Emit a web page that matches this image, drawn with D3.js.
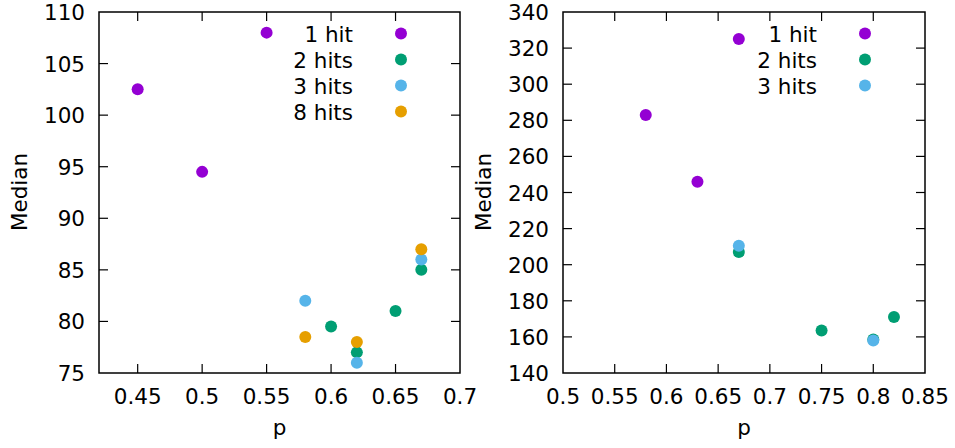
<!DOCTYPE html>
<html>
<head>
<meta charset="utf-8">
<script src="https://cdn.jsdelivr.net/npm/d3@7"></script>
<style>
body { margin: 0; background: #fff; }
svg text { font-family: "DejaVu Sans", sans-serif; font-size: 21.5px; fill: #000; }
</style>
</head>
<body>
<svg id="chart" width="955" height="448"></svg>
<script>
// series colours (gnuplot defaults)
var colors = {"1 hit": "#9400d3", "2 hits": "#009e73", "3 hits": "#56b4e9", "8 hits": "#e69f00"};

// left panel
var leftSeries = ["1 hit", "2 hits", "3 hits", "8 hits"];
var leftP = {
    "1 hit": [0.45, 0.5, 0.55],
    "2 hits": [0.6, 0.62, 0.65, 0.67],
    "3 hits": [0.58, 0.62, 0.67],
    "8 hits": [0.58, 0.62, 0.67]
};
var leftMedian = {
    "1 hit": [102.5, 94.5, 108],
    "2 hits": [79.5, 77, 81, 85],
    "3 hits": [82, 76, 86],
    "8 hits": [78.5, 78, 87]
};
var leftXTicks = [0.45, 0.5, 0.55, 0.6, 0.65, 0.7];
var leftYTicks = [75, 80, 85, 90, 95, 100, 105, 110];

// right panel
var rightSeries = ["1 hit", "2 hits", "3 hits"];
var rightP = {
    "1 hit": [0.58, 0.63, 0.67],
    "2 hits": [0.67, 0.75, 0.8, 0.82],
    "3 hits": [0.67, 0.8]
};
var rightMedian = {
    "1 hit": [283, 246, 325],
    "2 hits": [207, 163.5, 158.5, 171],
    "3 hits": [210.5, 158]
};
var rightXTicks = [0.5, 0.55, 0.6, 0.65, 0.7, 0.75, 0.8, 0.85];
var rightYTicks = [140, 160, 180, 200, 220, 240, 260, 280, 300, 320, 340];

var svg = d3.select("#chart");

function panel(opt) {
    var g = svg.append("g");
    var x = d3.scaleLinear().domain(opt.xDomain).range([opt.left, opt.right]);
    var y = d3.scaleLinear().domain(opt.yDomain).range([373, 12]);
    var tl = 9;

    // frame
    g.append("rect")
        .attr("x", opt.left).attr("y", 12)
        .attr("width", opt.right - opt.left).attr("height", 361)
        .attr("fill", "none").attr("stroke", "#000").attr("stroke-width", 1.5);

    // ticks, mirrored and inward
    var xt = opt.xTicks.filter(function(d) { return d > opt.xDomain[0] && d < opt.xDomain[1]; });
    g.selectAll("line.xb").data(xt).enter().append("line")
        .attr("x1", x).attr("x2", x).attr("y1", 373).attr("y2", 373 - tl)
        .attr("stroke", "#000").attr("stroke-width", 1.2);
    g.selectAll("line.xt").data(xt).enter().append("line")
        .attr("x1", x).attr("x2", x).attr("y1", 12).attr("y2", 12 + tl)
        .attr("stroke", "#000").attr("stroke-width", 1.2);
    var yt = opt.yTicks.filter(function(d) { return d > opt.yDomain[0] && d < opt.yDomain[1]; });
    g.selectAll("line.yl").data(yt).enter().append("line")
        .attr("x1", opt.left).attr("x2", opt.left + tl).attr("y1", y).attr("y2", y)
        .attr("stroke", "#000").attr("stroke-width", 1.2);
    g.selectAll("line.yr").data(yt).enter().append("line")
        .attr("x1", opt.right).attr("x2", opt.right - tl).attr("y1", y).attr("y2", y)
        .attr("stroke", "#000").attr("stroke-width", 1.2);

    // tick labels
    g.selectAll("text.xl").data(opt.xTicks).enter().append("text")
        .attr("x", x).attr("y", 404)
        .attr("text-anchor", "middle")
        .text(function(d) { return String(d); });
    g.selectAll("text.yl").data(opt.yTicks).enter().append("text")
        .attr("x", opt.left - 14).attr("y", function(d) { return y(d) + 8; })
        .attr("text-anchor", "end")
        .text(function(d) { return String(d); });

    // axis titles
    g.append("text")
        .attr("transform", "translate(" + (opt.yTitleX) + ",192) rotate(-90)")
        .attr("text-anchor", "middle")
        .text("Median");
    g.append("text")
        .attr("x", (opt.left + opt.right) / 2).attr("y", 435)
        .attr("text-anchor", "middle")
        .text("p");

    // points
    opt.series.forEach(function(s) {
        var pts = opt.px[s].map(function(p, i) { return [p, opt.py[s][i]]; });
        g.selectAll(null).data(pts).enter().append("circle")
            .attr("cx", function(d) { return x(d[0]); })
            .attr("cy", function(d) { return y(d[1]); })
            .attr("r", 6)
            .attr("fill", colors[s]);
    });

    // legend
    opt.series.forEach(function(s, i) {
        var ly = 33.5 + i * 26;
        g.append("text")
            .attr("x", opt.legendTextX).attr("y", ly + 8)
            .attr("text-anchor", "end")
            .text(s);
        g.append("circle")
            .attr("cx", opt.legendDotX).attr("cy", ly)
            .attr("r", 6).attr("fill", colors[s]);
    });
}

panel({
    left: 99, right: 460,
    xDomain: [0.42, 0.7], yDomain: [75, 110],
    xTicks: leftXTicks, yTicks: leftYTicks,
    series: leftSeries, px: leftP, py: leftMedian,
    yTitleX: 27, legendTextX: 353, legendDotX: 401
});

panel({
    left: 563, right: 925,
    xDomain: [0.5, 0.85], yDomain: [140, 340],
    xTicks: rightXTicks, yTicks: rightYTicks,
    series: rightSeries, px: rightP, py: rightMedian,
    yTitleX: 491, legendTextX: 817, legendDotX: 865
});
</script>
</body>
</html>
